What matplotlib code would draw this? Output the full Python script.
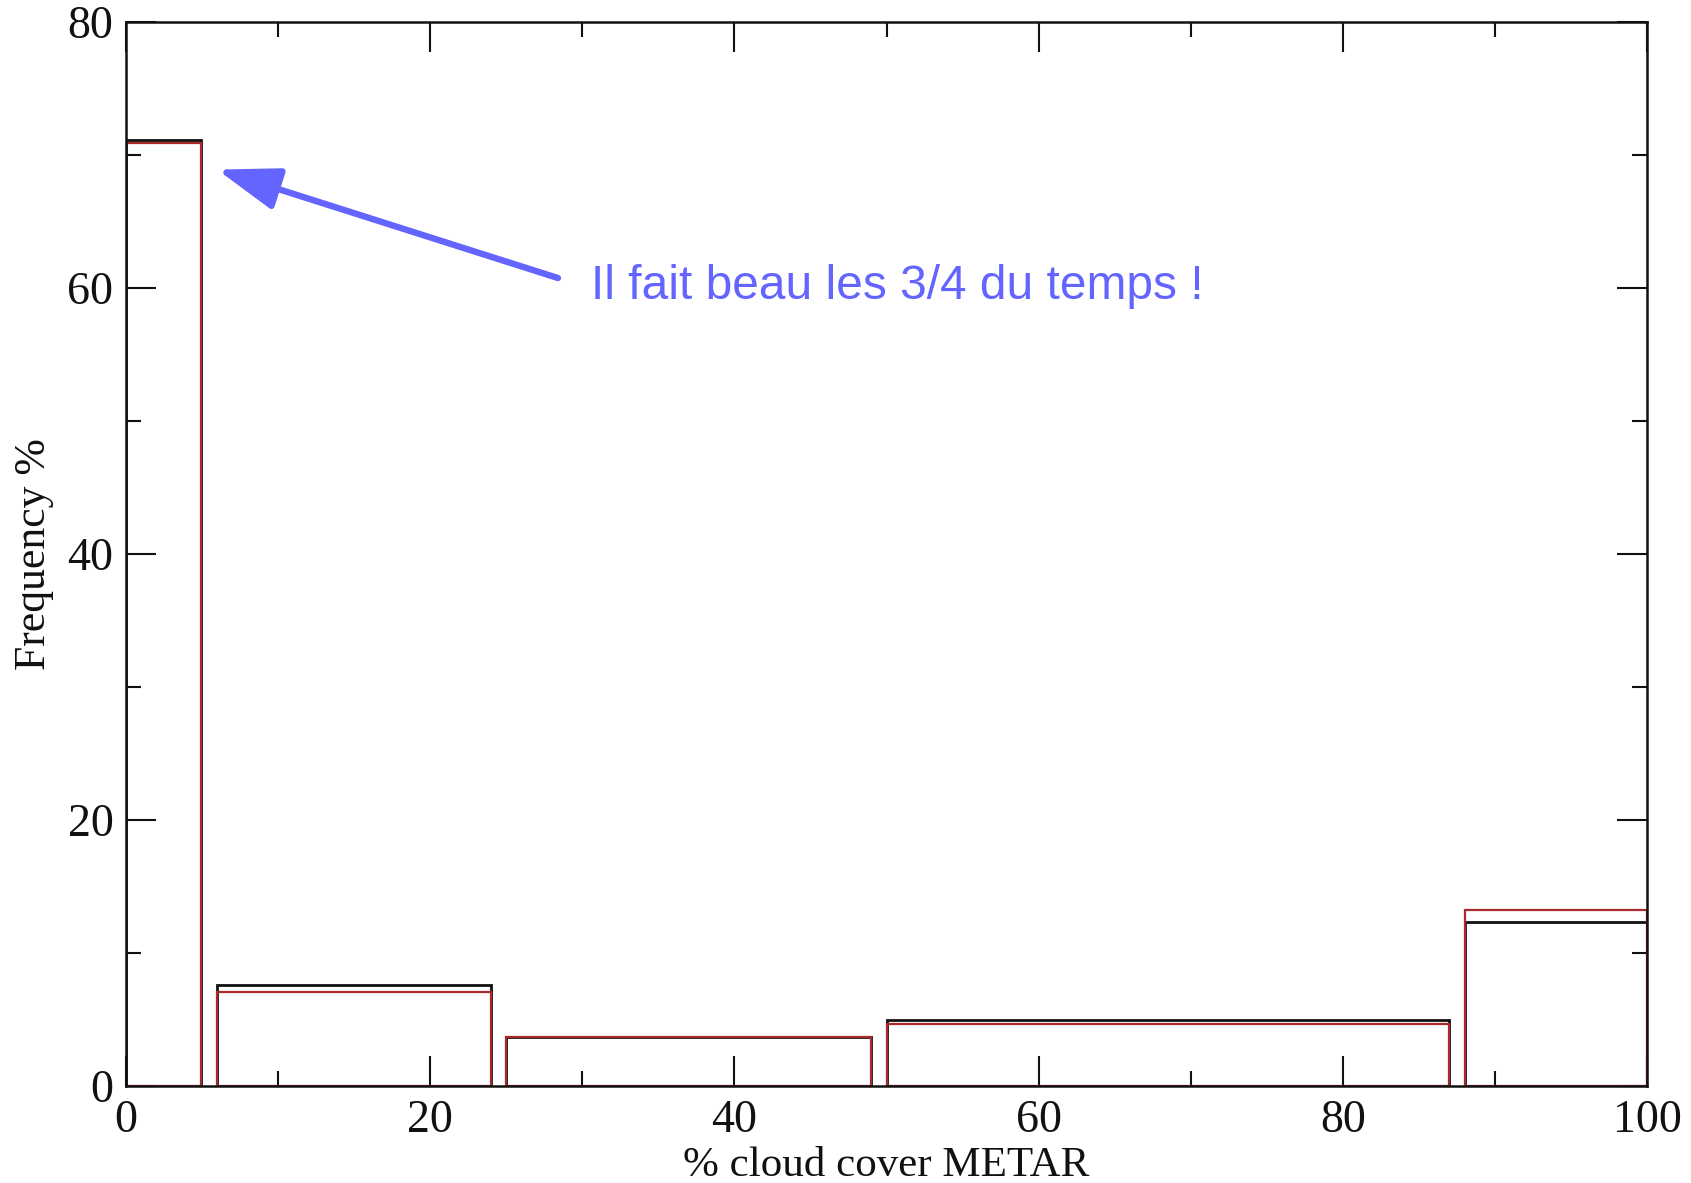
import matplotlib
matplotlib.use("Agg")
import matplotlib.pyplot as plt
from matplotlib.ticker import MultipleLocator

# Cloud-cover classes (bin edges in % cover)
bin_left = [0.0, 6.0, 25.0, 50.0, 88.0]
bin_right = [4.9, 24.0, 49.0, 87.0, 100.0]

# Frequency (%) per class for the two series
freq_black = [71.1, 7.62, 3.72, 4.96, 12.3]
freq_red = [70.9, 7.07, 3.70, 4.66, 13.23]

x_ticks = [0, 20, 40, 60, 80, 100]
y_ticks = [0, 20, 40, 60, 80]

serif = ["Liberation Serif", "DejaVu Serif"]

fig = plt.figure(figsize=(16.91, 11.83), dpi=100)
ax = fig.add_axes([0.0745, 0.082, 0.974 - 0.0745, 0.9814 - 0.082])

widths = [r - l for l, r in zip(bin_left, bin_right)]
ax.bar(bin_left, freq_black, width=widths, align="edge", fill=False,
       edgecolor="#111111", linewidth=2.0, zorder=2)
ax.bar(bin_left, freq_red, width=widths, align="edge", fill=False,
       edgecolor="#a82a2a", linewidth=1.6, zorder=3)

ax.set_xlim(0, 100)
ax.set_ylim(0, 80)
ax.set_xticks(x_ticks)
ax.set_yticks(y_ticks)
ax.xaxis.set_minor_locator(MultipleLocator(10))
ax.yaxis.set_minor_locator(MultipleLocator(10))

ax.tick_params(which="both", direction="in", top=True, right=True,
               width=1.5, color="#111111")
ax.tick_params(which="major", length=21.6)
ax.tick_params(which="minor", length=10.8)
ax.tick_params(axis="x", which="major", pad=10)
ax.tick_params(axis="y", which="major", pad=9)

for lbl in ax.get_xticklabels() + ax.get_yticklabels():
    lbl.set_fontfamily(serif)
    lbl.set_fontsize(33)
    lbl.set_color("#111111")

for s in ax.spines.values():
    s.set_linewidth(1.8)
    s.set_color("#111111")
    s.set_zorder(4)

ax.set_xlabel("% cloud cover METAR", fontfamily=serif, fontsize=31,
              color="#111111", labelpad=3)
ax.set_ylabel("Frequency %", fontfamily=serif, fontsize=31.5,
              color="#111111", labelpad=10)

blue = "#6464ff"
ax.annotate("", xy=(6.0, 68.9), xytext=(28.4, 60.75),
            arrowprops=dict(arrowstyle="-|>,head_length=38,head_width=13",
                            mutation_scale=1, color=blue, lw=4.6,
                            shrinkA=0, shrinkB=0))
ax.text(30.6, 60.15, "Il fait beau les 3/4 du temps !", color=blue,
        fontsize=34.5, fontfamily=["Liberation Sans", "DejaVu Sans"],
        ha="left", va="center")

fig.savefig("out.png", dpi=100)
